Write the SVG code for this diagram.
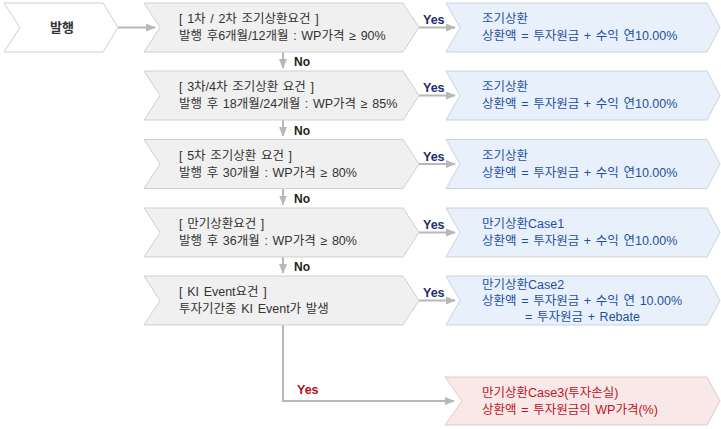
<svg xmlns="http://www.w3.org/2000/svg" width="721" height="429" viewBox="0 0 721 429">
<defs>
<style>
text{font-family:"Liberation Sans","Noto Sans CJK KR",sans-serif;font-size:12.5px;word-spacing:1.2px;}
.g{fill:#f0f0f0;stroke:#cfcfcf;stroke-width:1;}
.b{fill:#e8f1fb;stroke:#c9d3de;stroke-width:1;}
.r{fill:#f8e8e8;stroke:#dccbcb;stroke-width:1;}
.w{fill:#ffffff;stroke:#cfcfcf;stroke-width:1;}
.gt{fill:#333333;}
.bt{fill:#1f4f9f;}
.rt{fill:#c0141c;}
.yes{fill:#1c2f6e;font-weight:bold;font-size:12.5px;}
.yesr{fill:#b01018;font-weight:bold;font-size:12.5px;}
.no{fill:#222222;font-weight:bold;font-size:12px;}
.c{fill:none;stroke:#b8b8b8;stroke-width:2;}
</style>
<marker id="ah" markerWidth="10" markerHeight="8" refX="9" refY="4" orient="auto" markerUnits="userSpaceOnUse">
<path d="M0,0 L10,4 L0,8 Z" fill="#b8b8b8"/>
</marker>
</defs>

<g id="connectors">
<line class="c" x1="118" y1="27.5" x2="155" y2="27.5" marker-end="url(#ah)"/>
<line class="c" x1="419" y1="27.5" x2="455" y2="27.5" marker-end="url(#ah)"/>
<line class="c" x1="419" y1="95.5" x2="455" y2="95.5" marker-end="url(#ah)"/>
<line class="c" x1="419" y1="164" x2="455" y2="164" marker-end="url(#ah)"/>
<line class="c" x1="419" y1="232.5" x2="455" y2="232.5" marker-end="url(#ah)"/>
<line class="c" x1="419" y1="300.5" x2="455" y2="300.5" marker-end="url(#ah)"/>
<line class="c" x1="283" y1="52" x2="283" y2="68" marker-end="url(#ah)"/>
<line class="c" x1="283" y1="120" x2="283" y2="136" marker-end="url(#ah)"/>
<line class="c" x1="283" y1="188.5" x2="283" y2="204.5" marker-end="url(#ah)"/>
<line class="c" x1="283" y1="257" x2="283" y2="273" marker-end="url(#ah)"/>
<polyline class="c" points="283,325 283,401 454,401" marker-end="url(#ah)"/>
<text class="yes" x="423" y="24">Yes</text>
<text class="yes" x="423" y="92">Yes</text>
<text class="yes" x="423" y="161">Yes</text>
<text class="yes" x="423" y="229">Yes</text>
<text class="yes" x="423" y="297">Yes</text>
<text class="yesr" x="297" y="394">Yes</text>
<text class="no" x="294" y="66">No</text>
<text class="no" x="294" y="135">No</text>
<text class="no" x="294" y="203">No</text>
<text class="no" x="294" y="271">No</text>
</g>

<g id="issue">
<polygon class="w" points="4,3 103,3 118,27.5 103,52 4,52 20,27.5"/>
<text class="gt" x="62" y="32" text-anchor="middle" style="font-size:13px;font-weight:bold">발행</text>
</g>

<g id="cond1">
<polygon class="g" points="144,3 403,3 419,27.5 403,52 144,52 160,27.5"/>
<text class="gt" x="179" y="23">[ 1차 / 2차 조기상환요건 ]</text>
<text class="gt" x="179" y="40">발행 후6개월/12개월 : WP가격 ≥ 90%</text>
</g>
<g id="res1">
<polygon class="b" points="446,3 707,3 720,27.5 707,52 446,52 460,27.5"/>
<text class="bt" x="482" y="23">조기상환</text>
<text class="bt" x="482" y="40">상환액 = 투자원금 + 수익 연10.00%</text>
</g>

<g id="cond2">
<polygon class="g" points="144,71 403,71 419,95.5 403,120 144,120 160,95.5"/>
<text class="gt" x="179" y="91">[ 3차/4차 조기상환 요건 ]</text>
<text class="gt" x="179" y="108">발행 후 18개월/24개월 : WP가격 ≥ 85%</text>
</g>
<g id="res2">
<polygon class="b" points="446,71 707,71 720,95.5 707,120 446,120 460,95.5"/>
<text class="bt" x="482" y="91">조기상환</text>
<text class="bt" x="482" y="108">상환액 = 투자원금 + 수익 연10.00%</text>
</g>

<g id="cond3">
<polygon class="g" points="144,139.5 403,139.5 419,164 403,188.5 144,188.5 160,164"/>
<text class="gt" x="179" y="160">[ 5차 조기상환 요건 ]</text>
<text class="gt" x="179" y="177">발행 후 30개월 : WP가격 ≥ 80%</text>
</g>
<g id="res3">
<polygon class="b" points="446,139.5 707,139.5 720,164 707,188.5 446,188.5 460,164"/>
<text class="bt" x="482" y="160">조기상환</text>
<text class="bt" x="482" y="177">상환액 = 투자원금 + 수익 연10.00%</text>
</g>

<g id="cond4">
<polygon class="g" points="144,208 403,208 419,232.5 403,257 144,257 160,232.5"/>
<text class="gt" x="179" y="228">[ 만기상환요건 ]</text>
<text class="gt" x="179" y="245">발행 후 36개월 : WP가격 ≥ 80%</text>
</g>
<g id="res4">
<polygon class="b" points="446,208 707,208 720,232.5 707,257 446,257 460,232.5"/>
<text class="bt" x="482" y="228">만기상환Case1</text>
<text class="bt" x="482" y="245">상환액 = 투자원금 + 수익 연10.00%</text>
</g>

<g id="cond5">
<polygon class="g" points="144,276 403,276 419,300.5 403,325 144,325 160,300.5"/>
<text class="gt" x="179" y="296">[ KI Event요건 ]</text>
<text class="gt" x="179" y="313">투자기간중 KI Event가 발생</text>
</g>
<g id="res5">
<polygon class="b" points="446,276 707,276 720,300.5 707,325 446,325 460,300.5"/>
<text class="bt" x="482" y="289">만기상환Case2</text>
<text class="bt" x="482" y="305">상환액 = 투자원금 + 수익 연 10.00%</text>
<text class="bt" x="525" y="321">= 투자원금 + Rebate</text>
</g>

<g id="res6">
<polygon class="r" points="445,377 707,377 720,401 707,425 445,425 462,401"/>
<text class="rt" x="482" y="397">만기상환Case3(투자손실)</text>
<text class="rt" x="482" y="414">상환액 = 투자원금의 WP가격(%)</text>
</g>
</svg>
